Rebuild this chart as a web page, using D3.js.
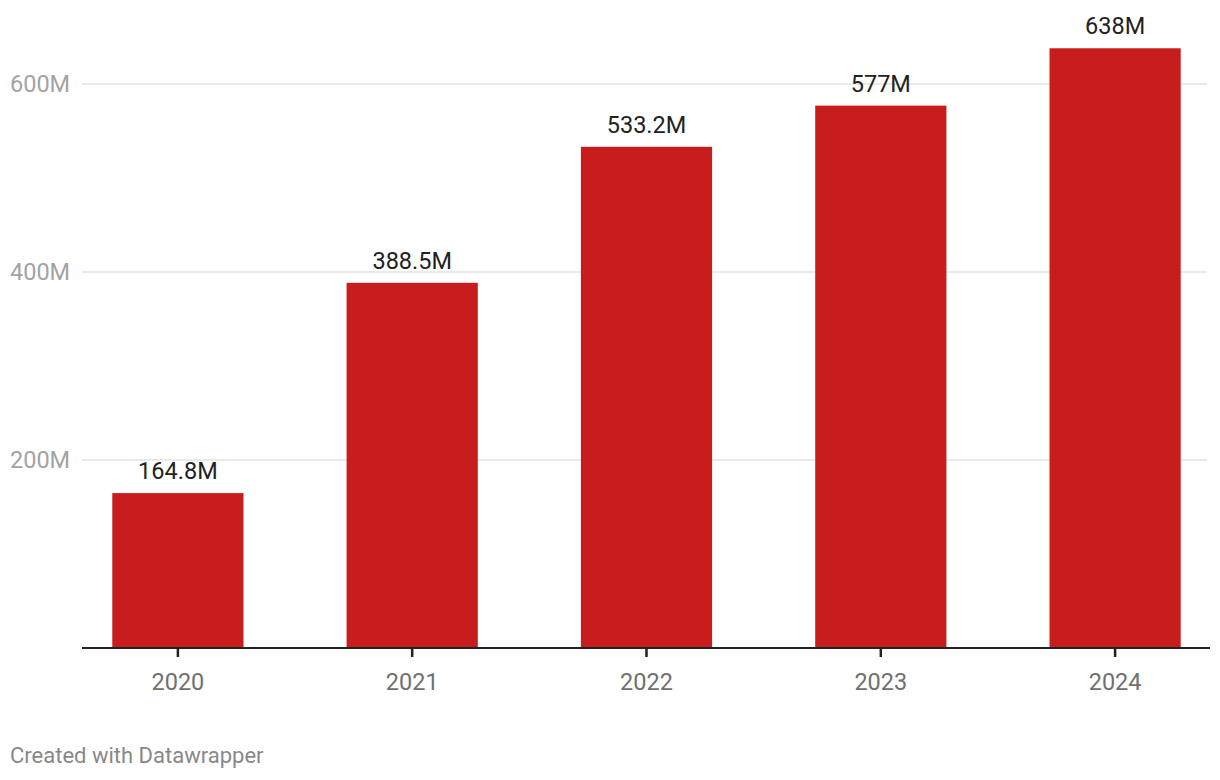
<!DOCTYPE html>
<html><head><meta charset="utf-8">
<script src="https://cdn.jsdelivr.net/npm/d3@7"></script>
<style>body{margin:0;background:#fff}svg{display:block;font-family:Roboto,sans-serif}</style>
</head><body>
<svg id="c" width="1220" height="780"></svg>
<script>
const years = ["2020","2021","2022","2023","2024"];
const values = [164.8, 388.5, 533.2, 577, 638];
const valueLabels = ["164.8M","388.5M","533.2M","577M","638M"];
const yTicks = [200, 400, 600];
const yTickLabels = ["200M","400M","600M"];

const svg = d3.select("#c");
const left = 82, right = 1209, base = 648;
const x = d3.scaleBand().domain(years).range([left + 1, right + 1]).paddingInner(0.44).paddingOuter(0.125);
const y = d3.scaleLinear().domain([0, 600]).range([base, 84]);

// gridlines
svg.append("g").selectAll("line").data(yTicks).join("line")
  .attr("x1", left).attr("x2", right-2)
  .attr("y1", d=>y(d)).attr("y2", d=>y(d))
  .attr("stroke", "#e3e3e3").attr("stroke-width", 1.5);
svg.append("g").selectAll("text").data(yTicks).join("text")
  .attr("x", 10).attr("y", d=>y(d)).attr("dy", "0.36em")
  .attr("fill", "#a3a3a3").attr("font-size", "23.5px")
  .text((d,i)=>yTickLabels[i]);

// bars
svg.append("g").selectAll("rect").data(values).join("rect")
  .attr("x", (d,i)=>x(years[i])).attr("width", x.bandwidth())
  .attr("y", d=>y(d)).attr("height", d=>base - y(d))
  .attr("fill", "#c71e1d");

svg.append("g").selectAll("text").data(values).join("text")
  .attr("x", (d,i)=>x(years[i]) + x.bandwidth()/2).attr("y", d=>y(d) - 14)
  .attr("text-anchor", "middle").attr("fill", "#222").attr("font-size", "23.5px")
  .text((d,i)=>valueLabels[i]);

// x axis
const xAxis = d3.axisBottom(x).tickSize(9).tickPadding(16).tickSizeOuter(0);
const gx = svg.append("g").attr("transform", `translate(0,${base})`).call(xAxis);
gx.select(".domain").attr("d", `M${left},0H${right + 1}`).attr("stroke", "#222").attr("stroke-width", 2);
gx.selectAll(".tick line").attr("stroke", "#222").attr("stroke-width", 2.5);
gx.selectAll(".tick text").attr("fill", "#707070").attr("font-size", "23.5px").attr("font-family", "Roboto,sans-serif");

svg.append("text").attr("x", 10).attr("y", 763).attr("fill", "#888")
  .attr("font-size", "22px").text("Created with Datawrapper");
</script>
</body></html>
